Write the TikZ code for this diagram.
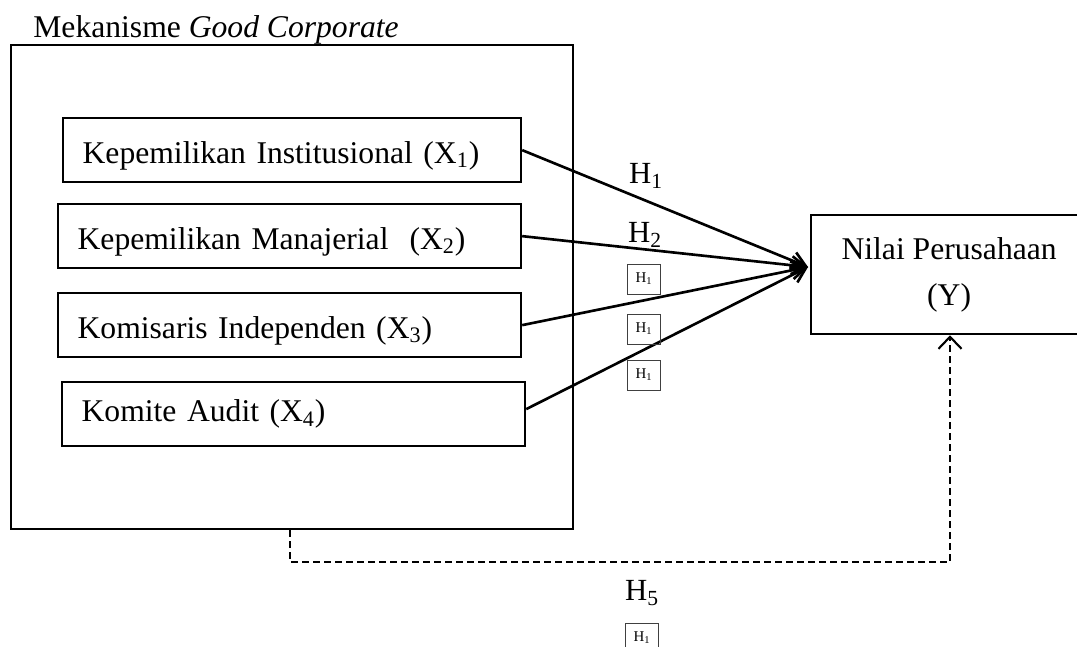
\documentclass[tikz,border=0pt]{standalone}
\usepackage{fontspec}
\setmainfont{Liberation Serif}
\usepackage{tikz}
\usetikzlibrary{positioning,calc,arrows.meta}

\tikzset{
  varbox/.style={draw, line width=1.3pt, anchor=north west, minimum height=1.28cm,
    inner xsep=0.38cm, align=left},
  turun/.style={text height=0.66cm, text depth=0.14cm},
  hyp/.style={font=\fontsize{17.5}{20}\selectfont, inner sep=0pt},
  hbox/.style={draw=black!75, line width=0.5pt, minimum width=0.66cm, minimum height=0.6cm,
    inner sep=0pt, font=\fontsize{8.5}{9}\selectfont},
  arr/.style={line width=1.5pt, -{Straight Barb[length=0.28cm, width=0.36cm]}},
  dasharr/.style={line width=1.2pt, dash pattern=on 0.13cm off 0.09cm,
    -{Straight Barb[length=0.24cm, width=0.46cm, line width=1.2pt]}}
}

\begin{document}
\begin{tikzpicture}[x=0.02cm, y=-0.02cm, font=\fontsize{18}{21}\selectfont]
    \useasboundingbox (0,0) rectangle (1077,646);

    % Mekanisme GCG
    \node[draw, line width=1.3pt, anchor=north west, minimum width=11.24cm, minimum height=9.68cm] (gcg) at (10,44) {};
    \node[anchor=base west, inner sep=0pt] (judul) at (33,37) {Mekanisme \textit{Good Corporate}};

    \node[varbox, turun, minimum width=9.16cm, text width=8.38cm] (inst) at (62,117) {Kepemilikan Institusional (X\textsubscript{1})};
    \node[varbox, turun, minimum width=9.26cm, text width=8.48cm] (manj) at (57,203) {Kepemilikan Manajerial~ (X\textsubscript{2})};
    \node[varbox, turun, minimum width=9.26cm, text width=8.48cm] (kom) at (57,292) {Komisaris Independen (X\textsubscript{3})};
    \node[varbox, minimum width=9.26cm, text width=8.48cm] (audit) at (61,381) {Komite Audit (X\textsubscript{4})};

    % Nilai Perusahaan
    \node[draw, line width=1.3pt, anchor=north west, minimum width=5.52cm, minimum height=2.38cm,
      align=center, font=\fontsize{18}{26}\selectfont] (nilai) at (810,214) {Nilai Perusahaan\\(Y)};
    \coordinate (temu) at (808,267);

    % hipotesis
    \draw[arr] (inst.east) -- (temu);
    \draw[arr] (manj.east) -- (temu);
    \draw[arr] (kom.east) -- (temu);
    \draw[arr] ($(audit.east)+(0,-5)$) -- (temu);

    \node[hyp] (h1) at (646,176) {H\textsubscript{1}};
    \node[hyp] (h2) at (645,235) {H\textsubscript{2}};
    \foreach \y [count=\i] in {279,329,375} {
        \node[hbox] (kotak\i) at (644,\y) {H\textsubscript{1}};
    }

    % H5 (garis putus-putus)
    \coordinate (belok1) at (290,562);
    \coordinate (belok2) at (950,562);
    \draw[dasharr] (gcg.south -| belok1) -- (belok1) -- (belok2) -- (nilai.south -| belok2);
    \node[hyp] (h5) at (642,593) {H\textsubscript{5}};
    \node[hbox] (kotak4) at (642,638) {H\textsubscript{1}};
\end{tikzpicture}
\end{document}
